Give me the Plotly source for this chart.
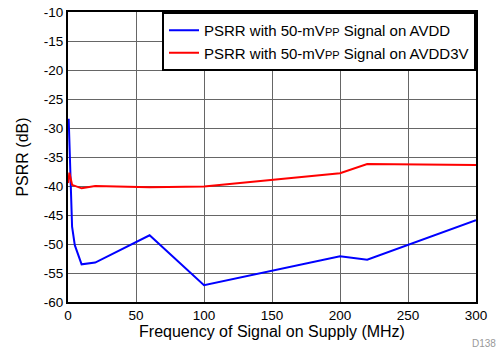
import plotly.graph_objects as go

# PSRR data
freq_avdd = [0.5, 2, 3, 5, 10, 20, 60, 100, 200, 220, 300]
psrr_avdd = [-28.4, -42.0, -47.0, -50.2, -53.5, -53.2, -48.5, -57.1, -52.1, -52.7, -45.9]

freq_avdd3v = [0.2, 1, 3, 10, 20, 60, 100, 200, 220, 300]
psrr_avdd3v = [-39.5, -37.7, -39.8, -40.4, -40.0, -40.2, -40.1, -37.8, -36.2, -36.4]

x_ticks = [0, 50, 100, 150, 200, 250, 300]
y_ticks = [-10, -15, -20, -25, -30, -35, -40, -45, -50, -55, -60]
y_labels = ["-10", "-15", "-20", "-25", "-30", "-35", "-40", "-45", "-50", "-55", "-60"]

font_name = "Liberation Sans, Arial, sans-serif"
pp = "<span style='font-size:11px'>PP</span>"

fig = go.Figure()
fig.add_trace(go.Scatter(
    x=freq_avdd, y=psrr_avdd, mode="lines",
    name="PSRR with 50-mV" + pp + " Signal on AVDD",
    line=dict(color="#0000ff", width=2)
))
fig.add_trace(go.Scatter(
    x=freq_avdd3v, y=psrr_avdd3v, mode="lines",
    name="PSRR with 50-mV" + pp + " Signal on AVDD3V",
    line=dict(color="#ff0000", width=2)
))

fig.update_layout(
    width=501, height=353,
    margin=dict(l=68, r=25, t=12, b=51),
    paper_bgcolor="white", plot_bgcolor="white",
    font=dict(family=font_name, size=13, color="black"),
    showlegend=True,
    legend=dict(
        x=1, y=1, xanchor="right", yanchor="top",
        bgcolor="white", bordercolor="black", borderwidth=2,
        font=dict(size=15), tracegroupgap=0,
        itemwidth=30,
    ),
)

fig.update_xaxes(
    range=[0, 300], tickvals=x_ticks,
    showgrid=True, gridcolor="#666666", gridwidth=1,
    showline=True, linecolor="black", linewidth=2, mirror=True,
    ticks="", zeroline=False, automargin=False,
    tickfont=dict(size=13.5), ticklabeloverflow="allow",
    title=dict(text="Frequency of Signal on Supply (MHz)", standoff=2),
)
fig.update_yaxes(
    range=[-60, -10], tickvals=y_ticks, ticktext=y_labels,
    showgrid=True, gridcolor="#666666", gridwidth=1,
    showline=True, linecolor="black", linewidth=2, mirror=True,
    ticks="", zeroline=False, automargin=False,
    tickfont=dict(size=13.5), ticklabeloverflow="allow",
    title=dict(text="PSRR (dB)", standoff=11),
)

fig.add_annotation(
    text="D138", xref="paper", yref="paper", x=1.054, y=-0.168,
    xanchor="right", yanchor="bottom", showarrow=False,
    font=dict(size=10, color="#999999"),
)

# drop the page's default body margin so the figure sits at the window origin
fig.write_html("out.html", config={"displayModeBar": False},
               post_script="document.body.style.margin='0';")
